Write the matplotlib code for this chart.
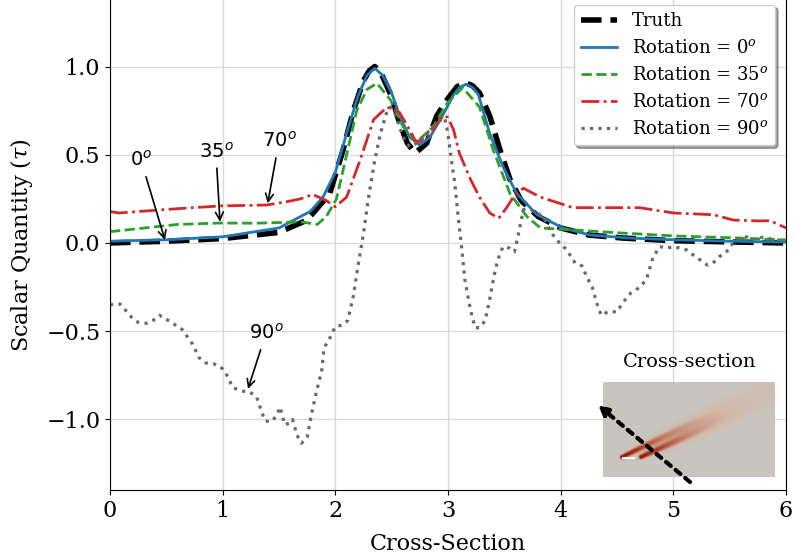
import numpy as np
import matplotlib
matplotlib.use("Agg")
import matplotlib.pyplot as plt
from matplotlib.colors import LinearSegmentedColormap
from matplotlib.patches import FancyArrowPatch

plt.rcParams['font.family'] = 'DejaVu Serif'
plt.rcParams['mathtext.fontset'] = 'dejavuserif'

# ---- data ----
truth_x = [0, 0.5, 1.0, 1.5, 1.75, 1.95, 2.07, 2.16, 2.25, 2.3, 2.35, 2.4, 2.45, 2.5, 2.57, 2.64,
           2.71, 2.81, 2.9, 2.99, 3.08, 3.15, 3.22, 3.28, 3.37, 3.46, 3.55, 3.65, 3.8, 4.0, 4.25,
           4.55, 5.0, 5.5, 6.0]
truth_y = [0.0, 0.01, 0.025, 0.06, 0.13, 0.28, 0.53, 0.75, 0.92, 0.975, 1.0, 0.97, 0.9, 0.83, 0.68,
           0.565, 0.51, 0.565, 0.72, 0.81, 0.885, 0.91, 0.89, 0.85, 0.72, 0.53, 0.36, 0.24, 0.15,
           0.085, 0.045, 0.028, 0.013, 0.006, 0.0]

rot0_x = [0, 0.5, 1.0, 1.5, 1.78, 1.89, 2.0, 2.1, 2.2, 2.28, 2.35, 2.42, 2.5, 2.57, 2.66, 2.75,
          2.84, 2.95, 3.05, 3.1, 3.16, 3.22, 3.27, 3.37, 3.49, 3.61, 3.79, 4.02, 4.26, 4.6, 5.0,
          5.5, 6.0]
rot0_y = [0.01, 0.018, 0.035, 0.085, 0.18, 0.26, 0.40, 0.62, 0.83, 0.95, 0.99, 0.95, 0.85, 0.72,
          0.6, 0.555, 0.6, 0.72, 0.84, 0.88, 0.9, 0.88, 0.84, 0.62, 0.43, 0.28, 0.16, 0.085,
          0.045, 0.028, 0.018, 0.01, 0.005]

rot35_x = [0, 0.38, 0.6, 0.98, 1.3, 1.57, 1.69, 1.84, 1.92, 2.01, 2.1, 2.19, 2.28, 2.37, 2.49,
           2.6, 2.72, 2.87, 2.99, 3.13, 3.28, 3.4, 3.55, 3.7, 3.82, 4.11, 4.5, 5.0, 5.5, 6.0]
rot35_y = [0.064, 0.09, 0.105, 0.113, 0.112, 0.117, 0.12, 0.105, 0.15, 0.25, 0.5, 0.75, 0.87,
           0.905, 0.81, 0.66, 0.57, 0.66, 0.79, 0.88, 0.77, 0.53, 0.28, 0.15, 0.085, 0.074,
           0.058, 0.04, 0.03, 0.017]

rot70_x = [0, 0.08, 0.5, 0.98, 1.39, 1.57, 1.69, 1.8, 1.92, 2.0, 2.1, 2.22, 2.34, 2.46, 2.57,
           2.66, 2.71, 2.75, 2.84, 2.96, 3.0, 3.05, 3.1, 3.2, 3.28, 3.37, 3.45, 3.52, 3.6, 3.67,
           3.82, 4.11, 4.41, 4.7, 5.0, 5.36, 5.53, 5.75, 5.86, 6.0]
rot70_y = [0.178, 0.17, 0.19, 0.21, 0.215, 0.234, 0.25, 0.275, 0.24, 0.205, 0.26, 0.47, 0.70,
           0.77, 0.74, 0.64, 0.58, 0.575, 0.62, 0.725, 0.71, 0.64, 0.51, 0.36, 0.26, 0.17, 0.14,
           0.2, 0.28, 0.31, 0.26, 0.20, 0.20, 0.20, 0.17, 0.16, 0.13, 0.125, 0.126, 0.085]

rot90_x = [0, 0.09, 0.19, 0.25, 0.33, 0.38, 0.44, 0.52, 0.64, 0.73, 0.79, 0.85, 0.92, 0.98, 1.03,
           1.09, 1.18, 1.24, 1.30, 1.35, 1.38, 1.44, 1.48, 1.51, 1.53, 1.55, 1.6, 1.62, 1.66, 1.70,
           1.75, 1.79, 1.83, 1.88, 1.9, 1.95, 2.0, 2.06, 2.11, 2.16, 2.2, 2.25, 2.29, 2.35, 2.40,
           2.46, 2.49, 2.54, 2.6, 2.66, 2.72, 2.81, 2.9, 2.97, 3.0, 3.03, 3.06, 3.09, 3.12, 3.15,
           3.2, 3.24, 3.28, 3.33, 3.37, 3.42, 3.46, 3.49, 3.55, 3.59, 3.62, 3.65, 3.67, 3.73, 3.80,
           3.86, 3.92, 3.99, 4.05, 4.13, 4.19, 4.23, 4.28, 4.32, 4.36, 4.42, 4.5, 4.55, 4.62, 4.69,
           4.76, 4.82, 4.88, 4.94, 5.0, 5.06, 5.12, 5.18, 5.24, 5.3, 5.35, 5.41, 5.49, 5.53, 5.59,
           5.65, 5.71, 5.75, 5.83, 5.92, 6.0]
rot90_y = [-0.35, -0.346, -0.42, -0.45, -0.455, -0.44, -0.41, -0.44, -0.49, -0.57, -0.65, -0.68,
           -0.685, -0.70, -0.74, -0.82, -0.84, -0.845, -0.87, -0.965, -1.01, -1.01, -0.975, -0.93,
           -0.98, -1.03, -1.02, -1.0, -1.09, -1.135, -1.10, -0.965, -0.85, -0.72, -0.595, -0.54,
           -0.475, -0.465, -0.44, -0.30, -0.134, 0.055, 0.24, 0.47, 0.62, 0.75, 0.77, 0.72, 0.60,
           0.545, 0.565, 0.62, 0.68, 0.71, 0.62, 0.47, 0.34, 0.15, -0.02, -0.21, -0.38, -0.48,
           -0.48, -0.44, -0.32, -0.15, -0.06, -0.02, -0.03, -0.05, 0.035, 0.13, 0.19, 0.19, 0.17,
           0.13, 0.055, 0.0, -0.036, -0.115, -0.13, -0.19, -0.25, -0.34, -0.41, -0.39, -0.39,
           -0.34, -0.285, -0.256, -0.21, -0.08, -0.02, -0.03, -0.02, -0.03, -0.04, -0.07, -0.097,
           -0.125, -0.115, -0.077, -0.04, 0.0, 0.027, 0.035, 0.017, 0.035, 0.027, 0.017, 0.008]

labels = ['Truth', 'Rotation = $0^o$', 'Rotation = $35^o$', 'Rotation = $70^o$', 'Rotation = $90^o$']

# ---- figure ----
fig = plt.figure(figsize=(7.95, 5.6), dpi=100)
ax = fig.add_axes([110 / 795, 70 / 560, 676 / 795, 490 / 560])

ax.plot(truth_x, truth_y, color='k', ls='--', lw=4, label=labels[0])
ax.plot(rot0_x, rot0_y, color='tab:blue', ls='-', lw=2, label=labels[1])
ax.plot(rot35_x, rot35_y, color='tab:green', ls='--', lw=2, label=labels[2])
ax.plot(rot70_x, rot70_y, color='tab:red', ls='-.', lw=2, label=labels[3])
ax.plot(rot90_x, rot90_y, color='dimgray', ls=':', lw=2.3, label=labels[4])

ax.set_xlim(0, 6)
ax.set_ylim(-1.4, 1.377)
ax.set_xticks([0, 1, 2, 3, 4, 5, 6])
ax.set_yticks([-1.0, -0.5, 0.0, 0.5, 1.0])
ax.tick_params(labelsize=16)
ax.grid(True, color='0.85', lw=1)
ax.spines['top'].set_visible(False)
ax.set_xlabel('Cross-Section', fontsize=16, labelpad=8)
ax.set_ylabel(r'Scalar Quantity $(\tau)$', fontsize=16, labelpad=8)

ax.legend(loc='upper right', bbox_to_anchor=(0.984, 0.99), borderaxespad=0, fontsize=13,
          shadow=True, fancybox=True, framealpha=1, edgecolor='0.8')

# annotations
arr = dict(arrowstyle='->', color='k', lw=1.2, shrinkA=3, shrinkB=0)
for txt, tip, pos in [('$0^o$', (0.488, 0.017), (0.275, 0.47)),
                      ('$35^o$', (0.976, 0.12), (0.94, 0.52)),
                      ('$70^o$', (1.40, 0.225), (1.50, 0.578)),
                      ('$90^o$', (1.225, -0.827), (1.385, -0.51))]:
    ax.annotate(txt, xy=tip, xytext=pos, ha='center', va='center', fontsize=14,
                math_fontfamily='dejavusans', arrowprops=arr)

# ---- inset cross-section picture ----
nx, ny = 172, 95
xx, yy = np.meshgrid(np.arange(nx) + 0.5, np.arange(ny) + 0.5)
field = np.zeros((ny, nx))
for p0, p1 in [((19, 75), (165, 4)), ((38, 75), (171, 15))]:
    p0 = np.array(p0, float)
    d = np.array(p1, float) - p0
    L2 = d @ d
    t = ((xx - p0[0]) * d[0] + (yy - p0[1]) * d[1]) / L2
    tc = np.clip(t, 0, 1)
    dist = np.hypot(xx - (p0[0] + tc * d[0]), yy - (p0[1] + tc * d[1]))
    w = 1.8 + 6 * tc
    amp = np.exp(-2.4 * tc) * (t >= -0.02)
    field += amp * np.exp(-0.5 * (dist / w) ** 2)
field = np.clip(field, 0, 1)
cmap = LinearSegmentedColormap.from_list('cs', ['#c8c5be', '#d3b8a9', '#c07a62', '#a8361f', '#7e150c'])
rgb = cmap(field)
# small white spot at the leading edge
spot = (np.abs(yy - 76) < 1.5) & (xx > 19) & (xx < 32)
rgb[spot] = [1, 1, 1, 1]

iax = fig.add_axes([603 / 795, 83 / 560, 172 / 795, 95 / 560])
iax.imshow(rgb, aspect='auto', interpolation='bilinear')
iax.axis('off')
fig.text(690 / 795, 1 - 362 / 560, 'Cross-section', ha='center', va='center', fontsize=14)

cut = FancyArrowPatch((690 / 795, 1 - 482 / 560), (598 / 795, 1 - 405 / 560),
                      transform=fig.transFigure, arrowstyle='-|>', ls=(0, (1.5, 1.5)), lw=3,
                      color='k', mutation_scale=14, shrinkA=0, shrinkB=0, zorder=10)
fig.add_artist(cut)

fig.savefig('out.png', dpi=100)
